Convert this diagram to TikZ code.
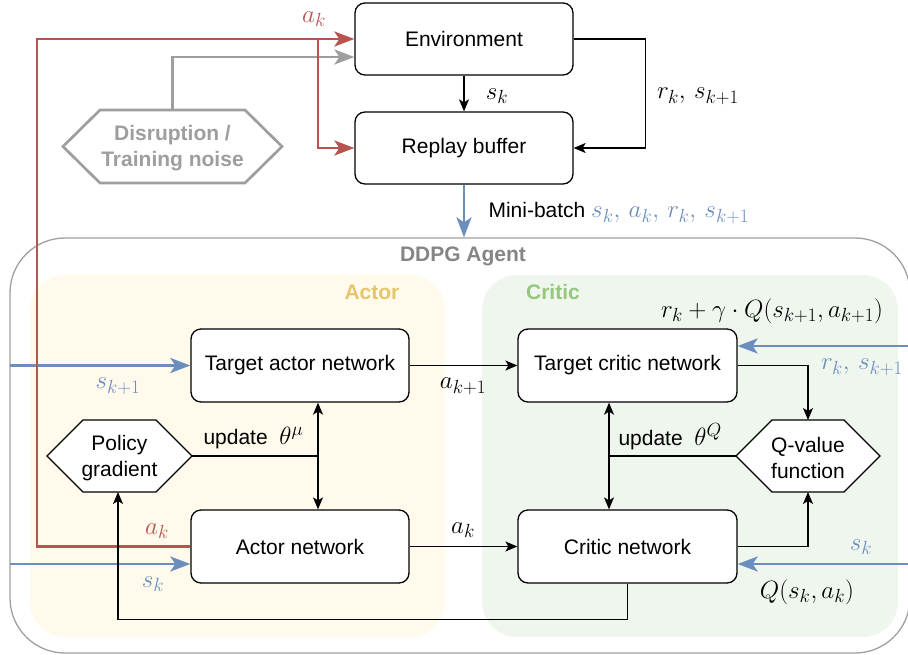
\RequirePackage{fix-cm}
\documentclass[tikz,border=0pt]{standalone}
\usepackage[no-math]{fontspec}
\setmainfont{Liberation Sans}
\usetikzlibrary{arrows.meta,calc}
\DeclareMathSizes{21}{25}{19}{14}
\definecolor{cred}{HTML}{B85450}
\definecolor{cblue}{HTML}{6C8EBF}
\definecolor{cgray}{HTML}{9E9E9E}
\definecolor{cagent}{HTML}{858585}
\definecolor{cframe}{HTML}{A0A0A0}
\definecolor{cactorfill}{HTML}{FFFAEC}
\definecolor{ccriticfill}{HTML}{EFF6EE}
\definecolor{cactortxt}{HTML}{E5C56C}
\definecolor{ccritictxt}{HTML}{97C77E}
\newcommand{\hexshape}[3]{%
  \draw[#3] (#1.west) -- ([xshift=#2]#1.north west) -- ([xshift=-#2]#1.north east) -- (#1.east)
  -- ([xshift=-#2]#1.south east) -- ([xshift=#2]#1.south west) -- cycle;}
\begin{document}
\begin{tikzpicture}[x=1pt,y=-1pt,
  font=\fontsize{21}{26}\selectfont,
  box/.style={draw,rounded corners=10pt,fill=white,minimum width=218pt,minimum height=72pt,line width=1.3pt,inner sep=0pt},
  hexbase/.style={inner sep=0pt,outer sep=0pt,minimum height=72pt},
  hextext/.style={align=center,inner sep=0pt,yshift=-2pt},
  arr/.style={line width=1.3pt,-{Stealth[length=12pt,width=10pt,inset=3pt]}},
  darr/.style={line width=1.3pt,{Stealth[length=12pt,width=10pt,inset=3pt]}-{Stealth[length=12pt,width=10pt,inset=3pt]}},
  plain/.style={line width=1.3pt},
  barr/.style={line width=2.7pt,cblue,-{Stealth[length=20pt,width=15pt,inset=5pt]}},
  rarr/.style={line width=2.7pt,cred,-{Stealth[length=20pt,width=15pt,inset=5pt]}},
  garr/.style={line width=2.7pt,cgray,-{Stealth[length=20pt,width=15pt,inset=5pt]}},
  boldlbl/.style={font=\fontsize{21}{26}\selectfont\bfseries},
  ]
\useasboundingbox (0,0) rectangle (908,654);
% regions
\node[draw=cframe,line width=1.3pt,rounded corners=55pt,minimum width=900pt,minimum height=415pt,inner sep=0pt] (ddpg) at (460,445.5) {};
\node[fill=cactorfill,rounded corners=35pt,minimum width=415pt,minimum height=362pt,inner sep=0pt] (actorreg) at (237.5,456) {};
\node[fill=ccriticfill,rounded corners=35pt,minimum width=416pt,minimum height=362pt,inner sep=0pt] (criticreg) at (690,456) {};
\node[boldlbl,text=cagent] (ddpglbl) at (463,256) {DDPG Agent};
\node[boldlbl,text=cactortxt] (actorlbl) at (372,292) {Actor};
\node[boldlbl,text=ccritictxt] (criticlbl) at (553,292) {Critic};
% boxes
\node[box] (env) at (464,39) {Environment};
\node[box] (rb) at (464,148) {Replay buffer};
\node[box,minimum height=73pt] (ta) at (300,365.5) {Target actor network};
\node[box,minimum height=73pt] (an) at (300,546.5) {Actor network};
\node[box,minimum height=73pt,minimum width=219pt] (tc) at (627.5,365.5) {Target critic network};
\node[box,minimum height=73pt,minimum width=219pt] (cn) at (627.5,546.5) {Critic network};
% hexagons
\node[hexbase,minimum width=219pt,minimum height=73pt] (dis) at (172.5,146.5) {};
\hexshape{dis}{37pt}{cgray,line width=2.7pt,fill=white}
\node[hextext,boldlbl,text=cgray] (distext) at (dis) {Disruption /\\Training noise};
\node[hexbase,minimum width=145pt] (pg) at (119.5,456) {};
\hexshape{pg}{36pt}{line width=1.3pt,fill=white}
\node[hextext] (pgtext) at (pg) {Policy\\gradient};
\node[hexbase,minimum width=144pt] (qv) at (808,456) {};
\hexshape{qv}{36pt}{line width=1.3pt,fill=white}
\node[hextext] (qvtext) at (qv) {Q-value\\function};
% top connectors
\draw[arr] (env.south) -- (rb.north);
\draw[arr] (env.east) -- ++(72,0) |- (rb.east);
\draw[barr] (rb.south) -- (rb.south |- ddpg.north);
\draw[garr] (dis.north) |- ($(env.west)+(0,18)$);
% blue inputs
\coordinate (lin1) at (10,365.5);
\coordinate (lin2) at (10,564);
\coordinate (rin1) at (908,346);
\coordinate (rin2) at (908,564);
\draw[barr] (lin1) -- (ta.west);
\draw[barr] (lin2) -- (lin2 -| an.west);
\draw[barr] (rin1) -- (rin1 -| tc.east);
\draw[barr] (rin2) -- (rin2 -| cn.east);
% red action path
\coordinate (rc) at (37,39);
\coordinate (rj) at (318,39);
\draw[rarr] (an.west) -| (rc) -- (env.west);
\draw[rarr] (rj) |- (rb.west);
% agent connectors
\draw[arr] (ta.east) -- (tc.west);
\draw[arr] (an.east) -- (cn.west);
\draw[darr] ([xshift=18pt]ta.south) -- ([xshift=18pt]an.north);
\draw[plain] (pg.east) -- ($(pg.east -| ta.south)+(18,0)$);
\draw[darr] ([xshift=-18.5pt]tc.south) -- ([xshift=-18.5pt]cn.north);
\draw[plain] (qv.west) -- ($(qv.west -| tc.south)+(-18.5,0)$);
\draw[arr] (tc.east) -| (qv.north);
\draw[arr] (cn.east) -| (qv.south);
\draw[arr] (cn.south) -- ++(0,36) -| ([xshift=-1.5pt]pg.south);
% labels
\node[text=cred] (lak1) at (314,19) {$a_k$};
\node (lsk1) at (497,96) {$s_k$};
\node (lrs1) at (698,96) {$r_k,\, s_{k+1}$};
\node[anchor=west] (lmb) at (485,213) {Mini-batch \textcolor{cblue}{$s_k,\, a_k,\, r_k,\, s_{k+1}$}};
\node[text=cblue] (lsk2) at (118,386) {$s_{k+1}$};
\node (lak2) at (463,386) {$a_{k+1}$};
\node[anchor=west] (lup1) at (200,438) {update\ \ $\theta^{\mu}$};
\node[text=cred] (lak3) at (157,531) {$a_k$};
\node[text=cblue] (lsk3) at (153,584) {$s_k$};
\node (lak4) at (463,530) {$a_k$};
\node[anchor=west] (lup2) at (615,437) {update\ \ $\theta^{Q}$};
\node (ltarget) at (772,311) {$r_k + \gamma \cdot Q(s_{k+1}, a_{k+1})$};
\node[text=cblue] (lrs2) at (862,367) {$r_k,\, s_{k+1}$};
\node[text=cblue] (lsk4) at (861,547) {$s_k$};
\node (lq) at (807,592) {$Q(s_k, a_k)$};
\end{tikzpicture}
\end{document}
